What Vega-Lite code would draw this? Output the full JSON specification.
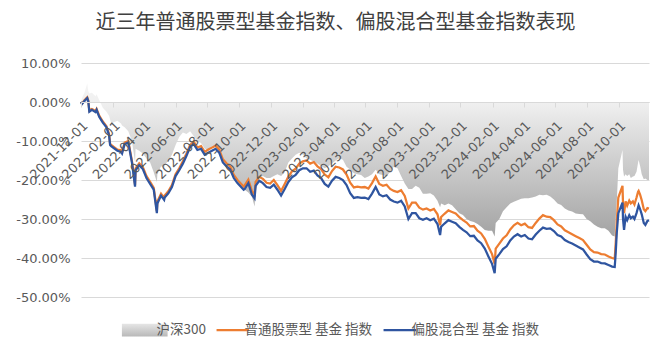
{
  "$schema": "https://vega.github.io/schema/vega-lite/v6.json",
  "width": 568,
  "height": 234,
  "autosize": {"type": "none"},
  "padding": {"left": 81, "top": 63, "right": 20, "bottom": 59},
  "background": "#ffffff",
  "title": {
    "text": "近三年普通股票型基金指数、偏股混合型基金指数表现",
    "font": "Noto Sans CJK SC",
    "fontSize": 20,
    "fontWeight": "normal",
    "color": "#404040",
    "anchor": "middle",
    "frame": "group",
    "dx": -29.5,
    "offset": 24
  },
  "config": {
    "view": {"stroke": null},
    "axis": {"labelFont": "DejaVu Sans", "labelColor": "#595959"},
    "axisY": {"labelOverlap": false}
  },
  "data": {
    "values": [
      {"date": "2021-12-01", "hs300": 0, "stock": 0, "mixed": 0},
      {"date": "2021-12-03", "hs300": 1.0, "stock": -0.4, "mixed": -0.5},
      {"date": "2021-12-08", "hs300": 2.5, "stock": 0.5, "mixed": 0.3},
      {"date": "2021-12-13", "hs300": 4.8, "stock": 1.2, "mixed": 1.0},
      {"date": "2021-12-15", "hs300": 2.8, "stock": 0.4, "mixed": 0.2},
      {"date": "2021-12-17", "hs300": 2.2, "stock": -2.2, "mixed": -2.5},
      {"date": "2021-12-22", "hs300": 2.4, "stock": -1.8, "mixed": -2.0},
      {"date": "2021-12-29", "hs300": 1.5, "stock": -2.3, "mixed": -2.6},
      {"date": "2021-12-31", "hs300": 2.0, "stock": -1.8, "mixed": -2.0},
      {"date": "2022-01-05", "hs300": 0.5, "stock": -3.5, "mixed": -3.8},
      {"date": "2022-01-12", "hs300": -1.5, "stock": -5.0, "mixed": -5.3},
      {"date": "2022-01-19", "hs300": -2.5, "stock": -6.2, "mixed": -6.5},
      {"date": "2022-01-24", "hs300": -3.5, "stock": -8.2, "mixed": -8.5},
      {"date": "2022-01-26", "hs300": -4.5, "stock": -10.7, "mixed": -11.0},
      {"date": "2022-01-28", "hs300": -5.5, "stock": -11.0, "mixed": -11.3},
      {"date": "2022-02-09", "hs300": -4.8, "stock": -12.2, "mixed": -12.5},
      {"date": "2022-02-16", "hs300": -5.5, "stock": -12.4, "mixed": -12.8},
      {"date": "2022-02-18", "hs300": -6.0, "stock": -12.8, "mixed": -13.2},
      {"date": "2022-02-23", "hs300": -6.5, "stock": -10.4, "mixed": -10.8},
      {"date": "2022-03-02", "hs300": -7.5, "stock": -10.0, "mixed": -10.4},
      {"date": "2022-03-09", "hs300": -10.0, "stock": -15.1, "mixed": -15.5},
      {"date": "2022-03-15", "hs300": -15.3, "stock": -21.2, "mixed": -21.7},
      {"date": "2022-03-16", "hs300": -12.0, "stock": -17.0, "mixed": -17.5},
      {"date": "2022-03-23", "hs300": -12.5, "stock": -15.7, "mixed": -16.2},
      {"date": "2022-03-30", "hs300": -13.2, "stock": -16.7, "mixed": -17.2},
      {"date": "2022-04-06", "hs300": -14.5, "stock": -19.0, "mixed": -19.5},
      {"date": "2022-04-13", "hs300": -15.5, "stock": -20.5, "mixed": -21.0},
      {"date": "2022-04-20", "hs300": -18.0, "stock": -22.0, "mixed": -22.5},
      {"date": "2022-04-26", "hs300": -20.5, "stock": -28.0, "mixed": -28.5},
      {"date": "2022-04-27", "hs300": -18.5, "stock": -25.5, "mixed": -26.0},
      {"date": "2022-05-04", "hs300": -16.5, "stock": -23.5, "mixed": -24.0},
      {"date": "2022-05-10", "hs300": -16.8, "stock": -24.6, "mixed": -25.1},
      {"date": "2022-05-11", "hs300": -16.2, "stock": -24.0, "mixed": -24.5},
      {"date": "2022-05-18", "hs300": -15.0, "stock": -22.9, "mixed": -23.4},
      {"date": "2022-05-25", "hs300": -13.5, "stock": -21.3, "mixed": -21.8},
      {"date": "2022-06-01", "hs300": -11.0, "stock": -18.5, "mixed": -19.0},
      {"date": "2022-06-08", "hs300": -9.0, "stock": -17.0, "mixed": -17.5},
      {"date": "2022-06-15", "hs300": -7.8, "stock": -15.2, "mixed": -15.8},
      {"date": "2022-06-22", "hs300": -8.2, "stock": -13.2, "mixed": -13.8},
      {"date": "2022-06-29", "hs300": -7.5, "stock": -11.0, "mixed": -11.5},
      {"date": "2022-07-06", "hs300": -8.8, "stock": -10.2, "mixed": -10.8},
      {"date": "2022-07-13", "hs300": -10.0, "stock": -11.7, "mixed": -12.3},
      {"date": "2022-07-20", "hs300": -10.5, "stock": -11.3, "mixed": -12.0},
      {"date": "2022-07-27", "hs300": -12.0, "stock": -12.8, "mixed": -13.5},
      {"date": "2022-08-03", "hs300": -12.5, "stock": -12.2, "mixed": -13.0},
      {"date": "2022-08-10", "hs300": -11.5, "stock": -11.7, "mixed": -12.5},
      {"date": "2022-08-17", "hs300": -11.3, "stock": -11.2, "mixed": -12.0},
      {"date": "2022-08-24", "hs300": -12.5, "stock": -12.2, "mixed": -13.0},
      {"date": "2022-08-31", "hs300": -14.5, "stock": -14.7, "mixed": -15.5},
      {"date": "2022-09-07", "hs300": -15.5, "stock": -15.7, "mixed": -16.5},
      {"date": "2022-09-14", "hs300": -16.5, "stock": -16.5, "mixed": -17.3},
      {"date": "2022-09-21", "hs300": -18.5, "stock": -18.7, "mixed": -19.5},
      {"date": "2022-09-28", "hs300": -20.0, "stock": -20.0, "mixed": -20.8},
      {"date": "2022-10-10", "hs300": -21.5, "stock": -21.7, "mixed": -22.5},
      {"date": "2022-10-12", "hs300": -22.5, "stock": -21.4, "mixed": -22.3},
      {"date": "2022-10-19", "hs300": -23.2, "stock": -19.9, "mixed": -20.8},
      {"date": "2022-10-26", "hs300": -24.3, "stock": -22.9, "mixed": -23.8},
      {"date": "2022-10-31", "hs300": -26.8, "stock": -23.7, "mixed": -24.7},
      {"date": "2022-11-02", "hs300": -22.5, "stock": -20.5, "mixed": -21.5},
      {"date": "2022-11-09", "hs300": -19.5, "stock": -19.2, "mixed": -20.2},
      {"date": "2022-11-16", "hs300": -19.0, "stock": -19.7, "mixed": -20.8},
      {"date": "2022-11-23", "hs300": -19.5, "stock": -20.7, "mixed": -21.8},
      {"date": "2022-11-30", "hs300": -19.5, "stock": -20.9, "mixed": -22.0},
      {"date": "2022-12-07", "hs300": -19.0, "stock": -20.0, "mixed": -21.2},
      {"date": "2022-12-14", "hs300": -18.5, "stock": -21.3, "mixed": -22.5},
      {"date": "2022-12-21", "hs300": -19.0, "stock": -22.8, "mixed": -24.0},
      {"date": "2022-12-28", "hs300": -18.0, "stock": -21.0, "mixed": -22.3},
      {"date": "2023-01-04", "hs300": -15.5, "stock": -19.1, "mixed": -20.5},
      {"date": "2023-01-11", "hs300": -14.5, "stock": -17.8, "mixed": -19.3},
      {"date": "2023-01-18", "hs300": -13.5, "stock": -17.1, "mixed": -18.7},
      {"date": "2023-01-25", "hs300": -13.0, "stock": -15.8, "mixed": -17.5},
      {"date": "2023-02-01", "hs300": -13.5, "stock": -15.2, "mixed": -17.0},
      {"date": "2023-02-08", "hs300": -14.5, "stock": -15.0, "mixed": -17.0},
      {"date": "2023-02-15", "hs300": -14.8, "stock": -15.8, "mixed": -17.9},
      {"date": "2023-02-22", "hs300": -15.3, "stock": -15.4, "mixed": -17.6},
      {"date": "2023-03-01", "hs300": -15.8, "stock": -16.5, "mixed": -18.8},
      {"date": "2023-03-08", "hs300": -16.4, "stock": -17.2, "mixed": -19.5},
      {"date": "2023-03-15", "hs300": -17.0, "stock": -18.6, "mixed": -21.0},
      {"date": "2023-03-22", "hs300": -16.5, "stock": -19.3, "mixed": -21.7},
      {"date": "2023-03-29", "hs300": -15.8, "stock": -17.7, "mixed": -20.2},
      {"date": "2023-04-05", "hs300": -15.0, "stock": -16.6, "mixed": -19.2},
      {"date": "2023-04-12", "hs300": -14.4, "stock": -16.8, "mixed": -19.5},
      {"date": "2023-04-19", "hs300": -14.8, "stock": -17.3, "mixed": -20.0},
      {"date": "2023-04-26", "hs300": -16.6, "stock": -18.6, "mixed": -21.3},
      {"date": "2023-05-03", "hs300": -17.3, "stock": -20.7, "mixed": -23.4},
      {"date": "2023-05-10", "hs300": -18.3, "stock": -21.9, "mixed": -24.6},
      {"date": "2023-05-17", "hs300": -18.5, "stock": -21.7, "mixed": -24.4},
      {"date": "2023-05-24", "hs300": -18.7, "stock": -21.9, "mixed": -24.6},
      {"date": "2023-05-31", "hs300": -19.5, "stock": -21.8, "mixed": -24.5},
      {"date": "2023-06-07", "hs300": -19.1, "stock": -22.2, "mixed": -24.9},
      {"date": "2023-06-14", "hs300": -18.5, "stock": -20.8, "mixed": -23.5},
      {"date": "2023-06-21", "hs300": -17.4, "stock": -19.1, "mixed": -21.8},
      {"date": "2023-06-28", "hs300": -18.5, "stock": -21.0, "mixed": -23.7},
      {"date": "2023-07-05", "hs300": -18.7, "stock": -21.5, "mixed": -24.2},
      {"date": "2023-07-12", "hs300": -19.1, "stock": -21.2, "mixed": -23.9},
      {"date": "2023-07-19", "hs300": -17.9, "stock": -22.3, "mixed": -25.0},
      {"date": "2023-07-26", "hs300": -16.6, "stock": -22.8, "mixed": -25.5},
      {"date": "2023-08-02", "hs300": -17.0, "stock": -23.1, "mixed": -25.8},
      {"date": "2023-08-09", "hs300": -19.0, "stock": -22.6, "mixed": -25.3},
      {"date": "2023-08-16", "hs300": -20.9, "stock": -24.1, "mixed": -26.8},
      {"date": "2023-08-23", "hs300": -22.3, "stock": -27.3, "mixed": -30.0},
      {"date": "2023-08-30", "hs300": -22.3, "stock": -25.8, "mixed": -28.5},
      {"date": "2023-09-06", "hs300": -21.5, "stock": -25.8, "mixed": -28.5},
      {"date": "2023-09-13", "hs300": -22.0, "stock": -27.1, "mixed": -29.8},
      {"date": "2023-09-20", "hs300": -23.5, "stock": -27.6, "mixed": -30.2},
      {"date": "2023-09-27", "hs300": -23.5, "stock": -27.3, "mixed": -29.8},
      {"date": "2023-10-04", "hs300": -23.4, "stock": -27.8, "mixed": -30.3},
      {"date": "2023-10-11", "hs300": -24.0, "stock": -27.4, "mixed": -29.9},
      {"date": "2023-10-18", "hs300": -25.3, "stock": -28.8, "mixed": -31.3},
      {"date": "2023-10-23", "hs300": -27.0, "stock": -31.6, "mixed": -34.1},
      {"date": "2023-10-25", "hs300": -26.0, "stock": -29.5, "mixed": -32.0},
      {"date": "2023-11-01", "hs300": -26.5, "stock": -28.6, "mixed": -31.1},
      {"date": "2023-11-08", "hs300": -26.0, "stock": -27.8, "mixed": -30.3},
      {"date": "2023-11-15", "hs300": -26.5, "stock": -28.2, "mixed": -30.7},
      {"date": "2023-11-22", "hs300": -27.5, "stock": -28.6, "mixed": -31.1},
      {"date": "2023-11-29", "hs300": -28.5, "stock": -29.5, "mixed": -32.0},
      {"date": "2023-12-06", "hs300": -29.0, "stock": -30.3, "mixed": -32.8},
      {"date": "2023-12-13", "hs300": -30.0, "stock": -30.9, "mixed": -33.4},
      {"date": "2023-12-20", "hs300": -30.5, "stock": -31.9, "mixed": -34.4},
      {"date": "2023-12-27", "hs300": -30.8, "stock": -31.8, "mixed": -34.3},
      {"date": "2024-01-03", "hs300": -31.3, "stock": -33.0, "mixed": -35.5},
      {"date": "2024-01-10", "hs300": -32.0, "stock": -33.7, "mixed": -36.2},
      {"date": "2024-01-17", "hs300": -32.8, "stock": -35.1, "mixed": -37.6},
      {"date": "2024-01-24", "hs300": -33.0, "stock": -37.1, "mixed": -39.6},
      {"date": "2024-01-31", "hs300": -33.0, "stock": -39.0, "mixed": -41.5},
      {"date": "2024-02-05", "hs300": -34.5, "stock": -41.5, "mixed": -43.9},
      {"date": "2024-02-07", "hs300": -31.0, "stock": -37.6, "mixed": -40.2},
      {"date": "2024-02-14", "hs300": -30.0, "stock": -36.3, "mixed": -39.0},
      {"date": "2024-02-21", "hs300": -28.0, "stock": -35.0, "mixed": -37.7},
      {"date": "2024-02-28", "hs300": -27.0, "stock": -34.2, "mixed": -37.0},
      {"date": "2024-03-06", "hs300": -26.0, "stock": -32.7, "mixed": -35.5},
      {"date": "2024-03-13", "hs300": -25.6, "stock": -31.6, "mixed": -34.5},
      {"date": "2024-03-20", "hs300": -25.2, "stock": -31.0, "mixed": -33.9},
      {"date": "2024-03-27", "hs300": -24.8, "stock": -31.6, "mixed": -34.5},
      {"date": "2024-04-03", "hs300": -24.7, "stock": -31.2, "mixed": -34.1},
      {"date": "2024-04-10", "hs300": -24.7, "stock": -32.1, "mixed": -35.0},
      {"date": "2024-04-17", "hs300": -24.5, "stock": -32.3, "mixed": -35.2},
      {"date": "2024-04-24", "hs300": -24.2, "stock": -31.0, "mixed": -34.0},
      {"date": "2024-05-01", "hs300": -23.8, "stock": -29.9, "mixed": -33.0},
      {"date": "2024-05-08", "hs300": -23.9, "stock": -29.0, "mixed": -32.2},
      {"date": "2024-05-15", "hs300": -23.8, "stock": -29.4, "mixed": -32.5},
      {"date": "2024-05-22", "hs300": -24.2, "stock": -29.5, "mixed": -32.4},
      {"date": "2024-05-29", "hs300": -25.0, "stock": -30.3, "mixed": -33.1},
      {"date": "2024-06-05", "hs300": -26.0, "stock": -31.4, "mixed": -34.1},
      {"date": "2024-06-12", "hs300": -26.4, "stock": -31.9, "mixed": -34.5},
      {"date": "2024-06-19", "hs300": -27.3, "stock": -32.9, "mixed": -35.4},
      {"date": "2024-06-26", "hs300": -27.8, "stock": -33.4, "mixed": -35.9},
      {"date": "2024-07-03", "hs300": -28.1, "stock": -33.9, "mixed": -36.3},
      {"date": "2024-07-10", "hs300": -28.6, "stock": -34.4, "mixed": -36.8},
      {"date": "2024-07-17", "hs300": -28.7, "stock": -34.9, "mixed": -37.3},
      {"date": "2024-07-24", "hs300": -28.8, "stock": -35.4, "mixed": -37.8},
      {"date": "2024-07-31", "hs300": -30.0, "stock": -36.6, "mixed": -39.1},
      {"date": "2024-08-07", "hs300": -30.6, "stock": -37.8, "mixed": -40.3},
      {"date": "2024-08-14", "hs300": -31.4, "stock": -38.5, "mixed": -40.9},
      {"date": "2024-08-21", "hs300": -32.0, "stock": -38.6, "mixed": -40.9},
      {"date": "2024-08-28", "hs300": -32.4, "stock": -39.0, "mixed": -41.3},
      {"date": "2024-09-04", "hs300": -32.4, "stock": -39.1, "mixed": -41.4},
      {"date": "2024-09-11", "hs300": -33.0, "stock": -39.6, "mixed": -41.8},
      {"date": "2024-09-18", "hs300": -34.2, "stock": -40.0, "mixed": -42.2},
      {"date": "2024-09-23", "hs300": -34.5, "stock": -40.2, "mixed": -42.3},
      {"date": "2024-09-24", "hs300": -31.5, "stock": -38.2, "mixed": -40.5},
      {"date": "2024-09-25", "hs300": -30.0, "stock": -36.0, "mixed": -38.5},
      {"date": "2024-09-26", "hs300": -27.5, "stock": -33.5, "mixed": -36.0},
      {"date": "2024-09-27", "hs300": -25.5, "stock": -30.5, "mixed": -33.5},
      {"date": "2024-09-30", "hs300": -17.0, "stock": -24.5, "mixed": -28.5},
      {"date": "2024-10-08", "hs300": -12.3, "stock": -21.5, "mixed": -25.8},
      {"date": "2024-10-09", "hs300": -17.4, "stock": -26.0, "mixed": -30.0},
      {"date": "2024-10-11", "hs300": -19.1, "stock": -28.5, "mixed": -32.8},
      {"date": "2024-10-14", "hs300": -18.5, "stock": -25.5, "mixed": -29.4},
      {"date": "2024-10-17", "hs300": -19.0, "stock": -26.6, "mixed": -30.3},
      {"date": "2024-10-21", "hs300": -18.5, "stock": -25.3, "mixed": -29.0},
      {"date": "2024-10-24", "hs300": -19.5, "stock": -26.0, "mixed": -29.8},
      {"date": "2024-10-28", "hs300": -19.1, "stock": -25.5, "mixed": -29.4},
      {"date": "2024-10-31", "hs300": -19.0, "stock": -26.3, "mixed": -30.0},
      {"date": "2024-11-04", "hs300": -17.9, "stock": -24.5, "mixed": -28.5},
      {"date": "2024-11-07", "hs300": -15.5, "stock": -23.0, "mixed": -27.0},
      {"date": "2024-11-08", "hs300": -14.9, "stock": -22.8, "mixed": -26.5},
      {"date": "2024-11-11", "hs300": -16.5, "stock": -23.8, "mixed": -27.5},
      {"date": "2024-11-14", "hs300": -18.5, "stock": -25.2, "mixed": -28.8},
      {"date": "2024-11-18", "hs300": -19.8, "stock": -27.5, "mixed": -31.0},
      {"date": "2024-11-21", "hs300": -19.6, "stock": -28.0, "mixed": -31.5},
      {"date": "2024-11-25", "hs300": -20.0, "stock": -27.2, "mixed": -30.5},
      {"date": "2024-11-28", "hs300": -20.0, "stock": -27.3, "mixed": -30.3}
    ]
  },
  "encoding": {
    "x": {
      "field": "date",
      "type": "temporal",
      "scale": {
        "type": "utc",
        "domain": [
          {"year": 2021, "month": 12, "date": 1, "utc": true},
          {"year": 2024, "month": 11, "date": 28, "utc": true}
        ]
      },
      "axis": {
        "title": null,
        "orient": "bottom",
        "offset": -195,
        "format": "%Y-%m-%d",
        "labelAngle": -45,
        "labelFontSize": 13,
        "labelPadding": 12,
        "labelOverlap": false,
        "labelFlush": false,
        "labelBound": false,
        "tickSize": 5,
        "tickColor": "#d9d9d9",
        "domainColor": "#d9d9d9",
        "grid": false,
        "zindex": 1,
        "values": [
          {"year": 2021, "month": 12, "date": 1, "utc": true},
          {"year": 2022, "month": 2, "date": 1, "utc": true},
          {"year": 2022, "month": 4, "date": 1, "utc": true},
          {"year": 2022, "month": 6, "date": 1, "utc": true},
          {"year": 2022, "month": 8, "date": 1, "utc": true},
          {"year": 2022, "month": 10, "date": 1, "utc": true},
          {"year": 2022, "month": 12, "date": 1, "utc": true},
          {"year": 2023, "month": 2, "date": 1, "utc": true},
          {"year": 2023, "month": 4, "date": 1, "utc": true},
          {"year": 2023, "month": 6, "date": 1, "utc": true},
          {"year": 2023, "month": 8, "date": 1, "utc": true},
          {"year": 2023, "month": 10, "date": 1, "utc": true},
          {"year": 2023, "month": 12, "date": 1, "utc": true},
          {"year": 2024, "month": 2, "date": 1, "utc": true},
          {"year": 2024, "month": 4, "date": 1, "utc": true},
          {"year": 2024, "month": 6, "date": 1, "utc": true},
          {"year": 2024, "month": 8, "date": 1, "utc": true},
          {"year": 2024, "month": 10, "date": 1, "utc": true}
        ]
      }
    }
  },
  "layer": [
    {
      "mark": {
        "type": "area",
        "color": {
          "gradient": "linear",
          "x1": 0, "y1": 0, "x2": 0, "y2": 1,
          "stops": [
            {"offset": 0, "color": "#f5f5f5"},
            {"offset": 0.124, "color": "#f0f0f0"},
            {"offset": 1, "color": "#a3a3a3"}
          ]
        }
      },
      "encoding": {
        "y": {
          "field": "hs300",
          "type": "quantitative",
          "scale": {"domain": [-50, 10]},
          "axis": {
            "title": null,
            "values": [-50, -40, -30, -20, -10, 0, 10],
            "labelExpr": "datum.value + '.00%'",
            "labelFontSize": 13,
            "labelPadding": 11,
            "labelOverlap": false,
            "labelFlush": false,
            "domain": false,
            "ticks": false,
            "grid": true,
            "gridColor": "#d9d9d9",
            "gridWidth": 1
          }
        },
        "y2": {"datum": 0}
      }
    },
    {
      "transform": [{"fold": ["stock", "mixed"], "as": ["series", "value"]}],
      "mark": {"type": "line", "strokeWidth": 2.25},
      "encoding": {
        "y": {
          "field": "value",
          "type": "quantitative",
          "axis": {
            "title": null,
            "values": [-50, -40, -30, -20, -10, 0, 10],
            "labelExpr": "datum.value + '.00%'",
            "labelFontSize": 13,
            "labelPadding": 11,
            "labelOverlap": false,
            "labelFlush": false,
            "domain": false,
            "ticks": false,
            "grid": true,
            "gridColor": "#d9d9d9",
            "gridWidth": 1
          }
        },
        "color": {
          "field": "series",
          "type": "nominal",
          "scale": {"domain": ["hs300", "stock", "mixed"], "range": ["#c9c9c9", "#ED7D31", "#2F55A0"]},
          "legend": {
            "title": null,
            "orient": "none",
            "legendX": 57,
            "legendY": 260,
            "direction": "horizontal",
            "padding": 0,
            "labelExpr": "datum.value == 'hs300' ? '沪深300' : datum.value == 'stock' ? '普通股票型 基金 指数' : '偏股混合型 基金 指数'",
            "labelFont": "Noto Sans CJK SC",
            "labelFontSize": 13.5,
            "labelColor": "#595959",
            "labelOffset": 5,
            "columnPadding": 6,
            "symbolType": "stroke",
            "symbolSize": 1050,
            "symbolStrokeWidth": 2.25,
            "encode": {
              "symbols": {
                "update": {
                  "shape": {"signal": "datum.value == 'hs300' ? 'M-1.41,-0.4H1.41V0.4H-1.41Z' : 'stroke'"},
                  "fill": [
                    {"test": "datum.value == 'hs300'", "value": {"gradient": "linear", "x1": 0, "y1": 0, "x2": 0, "y2": 1, "stops": [{"offset": 0, "color": "#e6e6e6"}, {"offset": 1, "color": "#b8b8b8"}]}},
                    {"value": "transparent"}
                  ],
                  "strokeWidth": {"signal": "datum.value == 'hs300' ? 0 : 2.25"}
                }
              }
            }
          }
        }
      }
    }
  ]
}
